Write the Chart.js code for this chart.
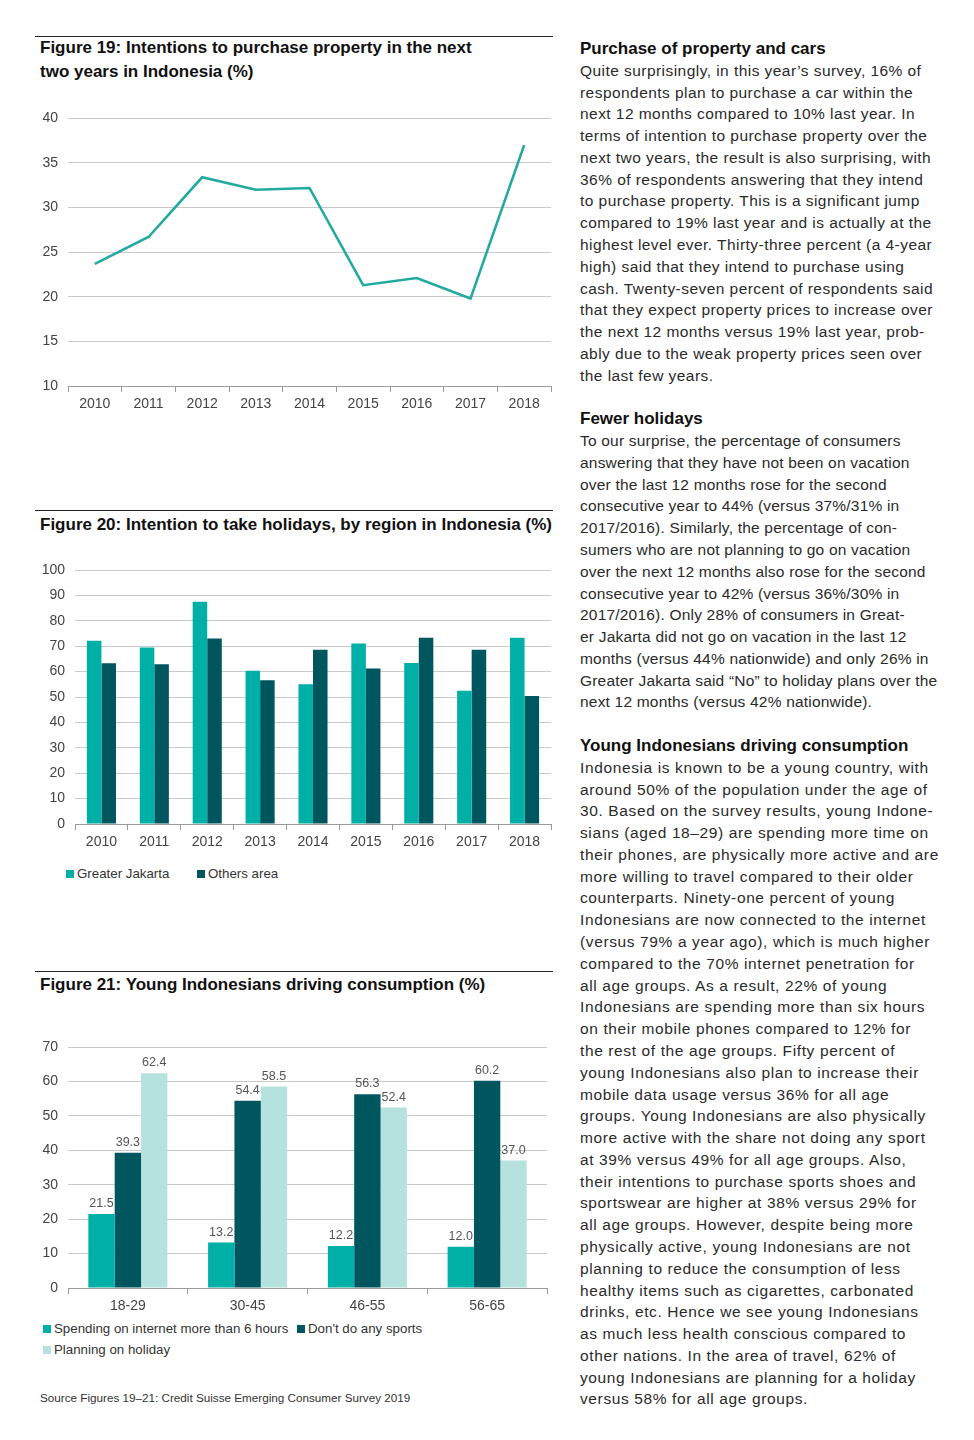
<!DOCTYPE html>
<html>
<head>
<meta charset="utf-8">
<title>Emerging Consumer Survey 2019 - Indonesia</title>
<script src="https://cdn.jsdelivr.net/npm/chart.js@4.4.1/dist/chart.umd.min.js"></script>
<style>
    html, body { margin: 0; padding: 0; background: #fff; }
    body { width: 974px; height: 1440px; position: relative; font-family: "Liberation Sans", Arial, sans-serif; color: #2a2a2a; }
    .rule { position: absolute; left: 35px; width: 518px; height: 0; border-top: 1px solid #222; }
    .fig-title { position: absolute; left: 40px; font-weight: bold; font-size: 17px; line-height: 24px; color: #111; white-space: nowrap; }
    .box { position: absolute; left: 0; width: 560px; }
    .legend { position: absolute; font-size: 13.3px; color: #333; white-space: nowrap; }
    .legend span.item { position: absolute; top: 0; line-height: 16px; }
    .legend i { display: inline-block; width: 8px; height: 8px; margin-right: 3px; vertical-align: 0; }
    .source { position: absolute; left: 40px; top: 1391px; font-size: 11.7px; color: #333; white-space: nowrap; }
    .text { position: absolute; left: 580px; top: 38px; width: 390px; font-size: 15.5px; line-height: 21.78px; color: #2a2a2a; white-space: nowrap; }
    .text b { color: #111; font-size: 17px; letter-spacing: 0; }
    .s1 { letter-spacing: 0.45px; }
    .s2 { letter-spacing: 0.2px; }
    .s3 { letter-spacing: 0.62px; }
</style>
</head>
<body>

<div class="rule" style="top:36px"></div>
<div class="fig-title" style="top:36px">Figure 19: Intentions to purchase property in the next<br>two years in Indonesia (%)</div>
<div class="box" style="top:100px;height:316px"><canvas id="propertyChart"></canvas></div>

<div class="rule" style="top:510px"></div>
<div class="fig-title" style="top:513px">Figure 20: Intention to take holidays, by region in Indonesia (%)</div>
<div class="box" style="top:550px;height:304px"><canvas id="holidayChart"></canvas></div>
<div class="legend" style="left:66px;top:866px">
    <span class="item" style="left:0"><i style="background:#00afa5"></i>Greater Jakarta</span>
    <span class="item" style="left:131px"><i style="background:#00565e"></i>Others area</span>
</div>

<div class="rule" style="top:971px"></div>
<div class="fig-title" style="top:973px">Figure 21: Young Indonesians driving consumption (%)</div>
<div class="box" style="top:1025px;height:293px"><canvas id="youngChart"></canvas></div>
<div class="legend" style="left:43px;top:1321px">
    <span class="item" style="left:0"><i style="background:#00afa5"></i>Spending on internet more than 6 hours</span>
    <span class="item" style="left:254px"><i style="background:#00565e"></i>Don't do any sports</span>
    <span class="item" style="left:0;top:21px"><i style="background:#b5e2de"></i>Planning on holiday</span>
</div>

<div class="source">Source Figures 19–21: Credit Suisse Emerging Consumer Survey 2019</div>

<div class="text">
<div class="s1">
<b>Purchase of property and cars</b><br>
Quite surprisingly, in this year’s survey, 16% of<br>
respondents plan to purchase a car within the<br>
next 12 months compared to 10% last year. In<br>
terms of intention to purchase property over the<br>
next two years, the result is also surprising, with<br>
36% of respondents answering that they intend<br>
to purchase property. This is a significant jump<br>
compared to 19% last year and is actually at the<br>
highest level ever. Thirty-three percent (a 4-year<br>
high) said that they intend to purchase using<br>
cash. Twenty-seven percent of respondents said<br>
that they expect property prices to increase over<br>
the next 12 months versus 19% last year, prob-<br>
ably due to the weak property prices seen over<br>
the last few years.<br>
<br>
</div>
<div class="s2">
<b>Fewer holidays</b><br>
To our surprise, the percentage of consumers<br>
answering that they have not been on vacation<br>
over the last 12 months rose for the second<br>
consecutive year to 44% (versus 37%/31% in<br>
2017/2016). Similarly, the percentage of con-<br>
sumers who are not planning to go on vacation<br>
over the next 12 months also rose for the second<br>
consecutive year to 42% (versus 36%/30% in<br>
2017/2016). Only 28% of consumers in Great-<br>
er Jakarta did not go on vacation in the last 12<br>
months (versus 44% nationwide) and only 26% in<br>
Greater Jakarta said “No” to holiday plans over the<br>
next 12 months (versus 42% nationwide).<br>
<br>
</div>
<div class="s3">
<b>Young Indonesians driving consumption</b><br>
Indonesia is known to be a young country, with<br>
around 50% of the population under the age of<br>
30. Based on the survey results, young Indone-<br>
sians (aged 18–29) are spending more time on<br>
their phones, are physically more active and are<br>
more willing to travel compared to their older<br>
counterparts. Ninety-one percent of young<br>
Indonesians are now connected to the internet<br>
(versus 79% a year ago), which is much higher<br>
compared to the 70% internet penetration for<br>
all age groups. As a result, 22% of young<br>
Indonesians are spending more than six hours<br>
on their mobile phones compared to 12% for<br>
the rest of the age groups. Fifty percent of<br>
young Indonesians also plan to increase their<br>
mobile data usage versus 36% for all age<br>
groups. Young Indonesians are also physically<br>
more active with the share not doing any sport<br>
at 39% versus 49% for all age groups. Also,<br>
their intentions to purchase sports shoes and<br>
sportswear are higher at 38% versus 29% for<br>
all age groups. However, despite being more<br>
physically active, young Indonesians are not<br>
planning to reduce the consumption of less<br>
healthy items such as cigarettes, carbonated<br>
drinks, etc. Hence we see young Indonesians<br>
as much less health conscious compared to<br>
other nations. In the area of travel, 62% of<br>
young Indonesians are planning for a holiday<br>
versus 58% for all age groups.
</div>
</div>

<script>
// ===== Data =====
const years = ['2010', '2011', '2012', '2013', '2014', '2015', '2016', '2017', '2018'];
const propertyIntent = [23.7, 26.7, 33.4, 32.0, 32.2, 21.3, 22.1, 19.8, 37.0];

const greaterJakarta = [72.1, 69.5, 87.5, 60.3, 55.0, 71.1, 63.4, 52.5, 73.3];
const othersArea = [63.3, 62.9, 73.0, 56.6, 68.6, 61.2, 73.3, 68.6, 50.4];

const ageGroups = ['18-29', '30-45', '46-55', '56-65'];
const internetOver6h = [21.5, 13.2, 12.2, 12.0];
const noSports = [39.3, 54.4, 56.3, 60.2];
const planningHoliday = [62.4, 58.5, 52.4, 37.0];

const propertyTicks = { min: 10, max: 40, step: 5 };
const holidayTicks = { min: 0, max: 100, step: 10 };
const youngTicks = { min: 0, max: 70, step: 10 };

(function() {
    'use strict';

    const TEAL = '#00afa5';
    const DARK = '#00565e';
    const LIGHT = '#b5e2de';

    Chart.defaults.font.family = '"Liberation Sans", Arial, sans-serif';
    Chart.defaults.font.size = 14;
    Chart.defaults.color = '#444';
    Chart.defaults.animation = false;
    Chart.defaults.maintainAspectRatio = false;
    Chart.defaults.plugins.legend.display = false;
    Chart.defaults.plugins.tooltip.enabled = false;

    // shared axes: x with small boundary ticks, y with grey grid, no border
    function xAxis() {
        return {
            offset: true,
            grid: { offset: true, drawOnChartArea: false, drawTicks: true, tickLength: 6, color: '#9a9a9a' },
            border: { display: true, color: '#9a9a9a' },
            ticks: { padding: 4, color: '#444', maxRotation: 0 },
            afterFit: function(scale) { scale.height = 30; }
        };
    }

    function yAxis(range, width) {
        return {
            min: range.min,
            max: range.max,
            grid: { color: '#c9c9c9', drawTicks: false },
            border: { display: false },
            ticks: { stepSize: range.step, padding: 10, color: '#444' },
            afterFit: function(scale) { scale.width = width; }
        };
    }

    // ===== Figure 19: line =====
    new Chart(document.getElementById('propertyChart'), {
        type: 'line',
        data: {
            labels: years,
            datasets: [{
                data: propertyIntent,
                borderColor: '#22aaa0',
                borderWidth: 2.6,
                pointRadius: 0,
                tension: 0,
                fill: false
            }]
        },
        options: {
            layout: { padding: { top: 18, right: 9, left: 0, bottom: 0 } },
            scales: { x: xAxis(), y: yAxis(propertyTicks, 68) }
        }
    });

    // ===== Figure 20: grouped bars =====
    new Chart(document.getElementById('holidayChart'), {
        type: 'bar',
        data: {
            labels: years,
            datasets: [
                { label: 'Greater Jakarta', data: greaterJakarta, backgroundColor: TEAL },
                { label: 'Others area', data: othersArea, backgroundColor: DARK }
            ]
        },
        options: {
            datasets: { bar: { barPercentage: 1, categoryPercentage: 0.55 } },
            layout: { padding: { top: 20, right: 9, left: 0, bottom: 0 } },
            scales: { x: xAxis(), y: yAxis(holidayTicks, 75) }
        }
    });

    // ===== Figure 21: grouped bars with value labels =====
    const valueLabels = {
        id: 'valueLabels',
        afterDatasetsDraw: function(chart) {
            const ctx = chart.ctx;
            ctx.save();
            ctx.font = '12.5px "Liberation Sans", Arial, sans-serif';
            ctx.fillStyle = '#555';
            ctx.textAlign = 'center';
            ctx.textBaseline = 'bottom';
            chart.data.datasets.forEach(function(ds, i) {
                chart.getDatasetMeta(i).data.forEach(function(bar, j) {
                    ctx.fillText(ds.data[j].toFixed(1), bar.x, bar.y - 4);
                });
            });
            ctx.restore();
        }
    };

    new Chart(document.getElementById('youngChart'), {
        type: 'bar',
        data: {
            labels: ageGroups,
            datasets: [
                { label: 'Spending on internet more than 6 hours', data: internetOver6h, backgroundColor: TEAL },
                { label: "Don't do any sports", data: noSports, backgroundColor: DARK },
                { label: 'Planning on holiday', data: planningHoliday, backgroundColor: LIGHT }
            ]
        },
        options: {
            datasets: { bar: { barPercentage: 1, categoryPercentage: 0.66 } },
            layout: { padding: { top: 22, right: 13, left: 0, bottom: 0 } },
            scales: { x: xAxis(), y: yAxis(youngTicks, 68) }
        },
        plugins: [valueLabels]
    });

})();
</script>
</body>
</html>
